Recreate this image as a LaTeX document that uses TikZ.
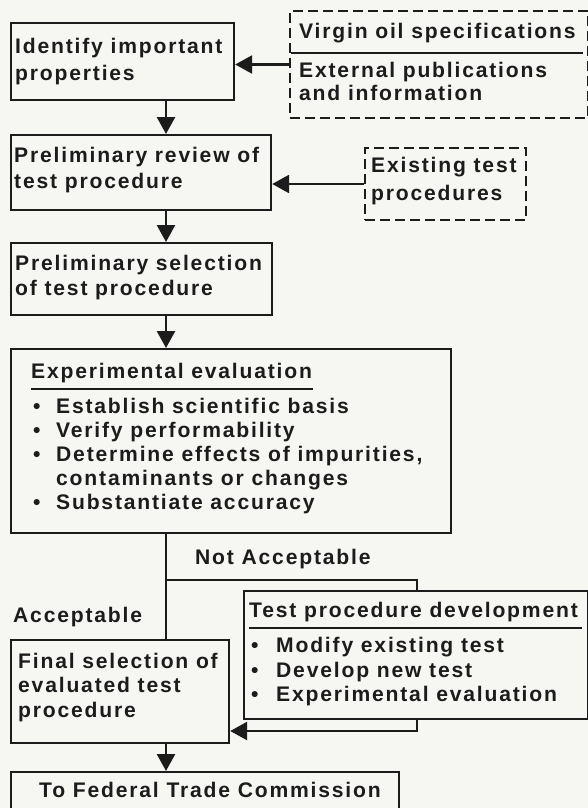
\documentclass[tikz,border=0pt]{standalone}
\usepackage{fontspec}
\newfontfamily\diafont{Liberation Sans}[LetterSpace=8.6]
\usetikzlibrary{arrows.meta}
\definecolor{ink}{RGB}{28,28,28}
\definecolor{paper}{RGB}{246,246,243}
\newcommand\bul{\makebox[23pt][l]{•}}
\tikzset{
  box/.style={draw=ink, line width=2.2pt, anchor=north west, inner sep=0pt},
  dbox/.style={box, line width=2pt, dash pattern=on 10pt off 5pt},
  txt/.style={anchor=west, align=left, inner sep=0pt, text=ink,
    font=\diafont\bfseries\fontsize{21.1}{25}\selectfont},
  ln/.style={draw=ink, line width=2.6pt},
  arr/.style={ln, -{Triangle[length=17pt,width=18pt]}},
  rule/.style={draw=ink, line width=1.6pt}
}
\begin{document}
\begin{tikzpicture}[x=1pt,y=-1pt]
\useasboundingbox (0,0) rectangle (588,808);
\clip (0,0) rectangle (588,808);
\fill[paper] (0,0) rectangle (588,808);
% boxes
\node[box, minimum width=223pt, minimum height=77pt] (b1) at (10,22) {};
\node[dbox, minimum width=298pt, minimum height=107pt] (d1) at (289,10) {};
\node[box, minimum width=260pt, minimum height=75pt] (b2) at (10,134) {};
\node[dbox, minimum width=161pt, minimum height=72pt] (d2) at (364,147) {};
\node[box, minimum width=261pt, minimum height=72pt] (b3) at (10,242) {};
\node[box, minimum width=440pt, minimum height=184pt] (b4) at (10,348) {};
\node[box, minimum width=218pt, minimum height=103pt] (b5) at (10,639) {};
\node[box, minimum width=344pt, minimum height=128pt] (b6) at (243,590) {};
\node[box, minimum width=388pt, minimum height=80pt] (b7) at (10,771) {};
% texts
\node[txt, font=\diafont\bfseries\fontsize{21.1}{27}\selectfont] (t1) at (15,62) {Identify important\\properties};
\node[txt] (t2) at (299,33) {Virgin oil specifications};
\node[txt, font=\diafont\bfseries\fontsize{21.1}{23}\selectfont] (t3) at (299,81.5) {External publications\\and information};
\node[txt, font=\diafont\bfseries\fontsize{21.1}{26}\selectfont] (t4) at (14,170) {Preliminary review of\\test procedure};
\node[txt, font=\diafont\bfseries\fontsize{21.1}{28}\selectfont] (t5) at (371,181) {Existing test\\procedures};
\node[txt] (t6) at (15,277.5) {Preliminary selection\\of test procedure};
\node[txt] (t7) at (31,373) {Experimental evaluation};
\node[txt, font=\diafont\bfseries\fontsize{21.1}{24}\selectfont] (t8) at (33,456) {\bul Establish scientific basis\\\bul Verify performability\\\bul Determine effects of impurities,\\\hspace*{23pt}contaminants or changes\\\bul Substantiate accuracy};
\node[txt] (t9) at (195,559) {Not Acceptable};
\node[txt] (t10) at (13,617) {Acceptable};
\node[txt] (t11) at (249,612) {Test procedure development};
\node[txt, font=\diafont\bfseries\fontsize{21.1}{24.5}\selectfont] (t12) at (251,672) {\makebox[25pt][l]{•}Modify existing test\\\makebox[25pt][l]{•}Develop new test\\\makebox[25pt][l]{•}Experimental evaluation};
\node[txt, font=\diafont\bfseries\fontsize{21.1}{24.5}\selectfont] (t13) at (18,687.5) {Final selection of\\evaluated test\\procedure};
\node[txt] (t14) at (39,790) {To Federal Trade Commission};
% rules
\draw[rule] (291,53) -- (583,53);
\draw[rule] (31,389) -- (313,389);
\draw[rule] (249,628) -- (582,628);
% helper coordinates
\coordinate (ax) at (166,0);
\coordinate (lx) at (417,0);
\coordinate (br) at (166,580);
\coordinate (ry) at (0,731);
% connectors
\draw[arr] (d1.west) -- (d1.west -| b1.east);
\draw[arr] (b1.south -| ax) -- (b2.north -| ax);
\draw[arr] (d2.west) -- (d2.west -| b2.east);
\draw[arr] (b2.south -| ax) -- (b3.north -| ax);
\draw[arr] (b3.south -| ax) -- (b4.north -| ax);
\draw[ln] (b4.south -| ax) -- (b5.north -| ax);
\draw[ln] (br) -| (b6.north -| lx);
\draw[arr] (b6.south -| lx) |- (b5.east |- ry);
\draw[arr] (b5.south -| ax) -- (b7.north -| ax);
\end{tikzpicture}
\end{document}
